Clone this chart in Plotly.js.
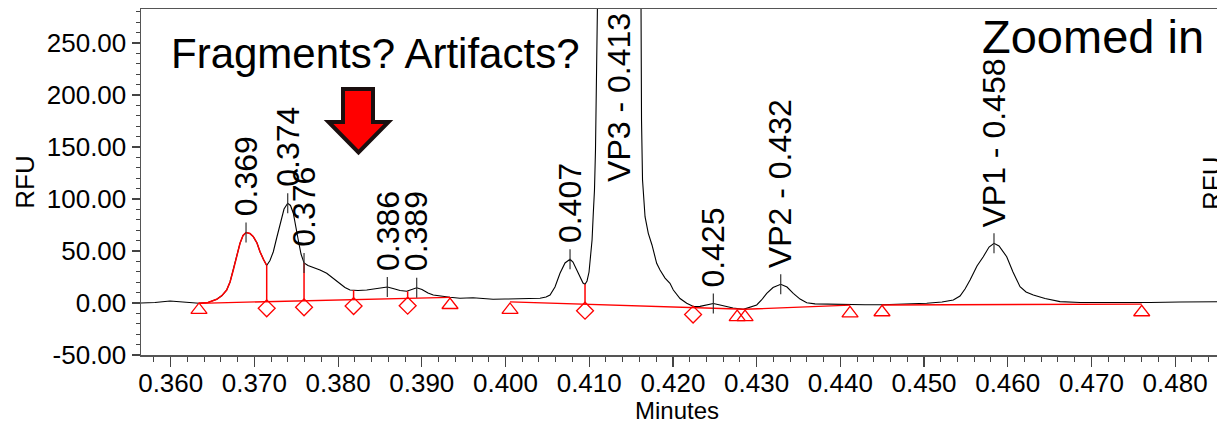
<!DOCTYPE html>
<html>
<head>
<meta charset="utf-8">
<script src="https://cdn.plot.ly/plotly-3.0.1.min.js"></script>
<style>
html,body{margin:0;padding:0;background:#fff;overflow:hidden;}
#wrap{width:1217px;height:425px;overflow:hidden;position:relative;}
#plot{width:1300px;height:425px;}
</style>
</head>
<body>
<div id="wrap"><div id="plot"></div></div>
<script>
// ---- Data ----
const time = [0.35645,0.35812,0.35992,0.36171,0.36338,0.36446,0.36550,0.36613,0.36669,0.36709,
0.36748,0.36789,0.36828,0.36864,0.36900,0.36947,0.36987,0.37031,0.37067,0.37109,
0.37147,0.37186,0.37226,0.37266,0.37306,0.37354,0.37398,0.37431,0.37465,0.37497,
0.37524,0.37557,0.37593,0.37640,0.37704,0.37784,0.37864,0.37939,0.38023,0.38082,
0.38142,0.38238,0.38342,0.38441,0.38513,0.38588,0.38656,0.38740,0.38820,0.38871,
0.38939,0.39002,0.39074,0.39137,0.39241,0.39337,0.39456,0.39612,0.39731,0.39851,
0.39994,0.40173,0.40317,0.40412,0.40484,0.40532,0.40591,0.40651,0.40711,0.40771,
0.40806,0.40851,0.40890,0.40926,0.40950,0.40974,0.40998,0.41016,0.41034,0.41049,
0.41063,0.41075,0.41085,0.41090,0.41099,0.41354,0.41610,0.41619,0.41625,0.41637,
0.41667,0.41706,0.41750,0.41806,0.41846,0.41906,0.41965,0.42005,0.42085,0.42165,
0.42244,0.42324,0.42407,0.42483,0.42563,0.42643,0.42718,0.42841,0.42921,0.43001,
0.43059,0.43121,0.43196,0.43288,0.43363,0.43438,0.43519,0.43599,0.43698,0.43838,
0.43996,0.44116,0.44295,0.44498,0.44773,0.45032,0.45215,0.45350,0.45430,0.45490,
0.45550,0.45633,0.45708,0.45777,0.45836,0.45896,0.45988,0.46063,0.46147,0.46219,
0.46306,0.46446,0.46625,0.46864,0.47103,0.47422,0.47700,0.48059,0.48501,0.49014];
const rfu = [0.0,0.5,1.9,0.5,-0.3,0.5,3.6,7.2,12.5,20.2,
31.7,45.2,57.4,64.9,67.8,66.8,63.8,57.7,49.3,41.8,
36.1,40.9,49.3,62.5,76.6,90.4,95.9,93.8,86.3,74.0,
60.6,47.1,38.5,36.1,34.3,31.7,28.6,24.0,18.9,14.9,
12.5,12.0,12.5,13.5,14.4,15.4,13.9,12.0,11.3,13.0,
14.7,13.0,9.6,7.7,6.3,5.5,4.5,5.1,4.3,3.6,
3.8,3.8,4.2,4.5,5.8,7.7,15.4,28.6,38.5,42.0,
39.4,31.7,24.0,19.2,18.0,21.2,29.8,43.3,60.6,86.5,
108.7,147.1,214.4,282.7,450,1800,450,282.7,176.0,118.3,
83.0,67.0,55.8,38.2,31.7,24.0,18.9,12.5,4.3,-0.3,
-3.4,-3.2,-1.4,-0.5,-1.9,-3.4,-4.8,-6.1,-4.3,-1.9,
2.9,9.3,14.9,18.0,15.4,9.3,3.8,0.3,-0.8,-1.0,
-1.4,-1.9,-1.7,-1.7,-1.0,-0.3,1.0,2.9,6.7,13.5,
22.1,35.6,44.5,53.8,57.4,54.8,44.5,29.8,15.7,10.6,
7.7,4.3,1.3,0.5,0.5,0.3,0.5,1.0,1.3,1.4];

// highlighted (integrated) first peak window
const redStart = 0.36338, redEnd = 0.37147;

// peaks
const peakTimes   = [0.36900,0.37398,0.37593,0.38588,0.38939,0.40771,0.41354,0.42483,0.43288,0.45836];
const peakHeights = [67.8,95.9,38.5,15.4,14.7,42.0,1800,-0.5,18.0,57.4];
const peakLabels  = ['0.369','0.374','0.376','0.386','0.389','0.407','VP3 - 0.413','0.425','VP2 - 0.432','VP1 - 0.458'];

// integration baselines (null separates segments)
const baseT = [0.36338,0.39337,null,0.40054,0.42768,0.42862,0.44116,null,0.44498,0.47601];
const baseV = [-0.3,5.5,null,1.0,-6.0,-6.0,-2.0,null,-1.9,-1.0];

// drop lines
const dropT    = [0.37147,0.37593,0.38185,0.38831,0.40950];
const dropBase = [1.3,2.1,3.3,4.5,-1.3];
const dropTop  = [36.1,38.5,12.5,11.3,18.0];

// baseline start/end markers (triangles) and drop markers (diamonds)
const triT = [0.36338,0.39337,0.40054,0.42768,0.42862,0.44116,0.44498,0.47601];
const triV = [-6.7,-1.9,-6.7,-13.5,-13.5,-9.9,-8.9,-8.9];
const diaT = [0.37147,0.37593,0.38185,0.38831,0.40950,0.42241];
const diaV = [-5.1,-4.1,-2.9,-2.6,-7.4,-11.1];

// axis ticks
const xTickVals = [0.36,0.37,0.38,0.39,0.40,0.41,0.42,0.43,0.44,0.45,0.46,0.47,0.48];
const xTickText = ['0.360','0.370','0.380','0.390','0.400','0.410','0.420','0.430','0.440','0.450','0.460','0.470','0.480'];
const yTickVals = [-50,0,50,100,150,200,250];
const yTickText = ['-50.00','0.00','50.00','100.00','150.00','200.00','250.00'];

// ---- Layout geometry ----
const W = 1300, H = 425;
const M = {l:141, r:40, t:9, b:70};
const X0 = 0.356452, X1 = 0.49014, Y0 = -50, Y1 = 282.7;
const pw = W - M.l - M.r, ph = H - M.t - M.b;
const px2paperX = p => (p - M.l) / pw;
const px2paperY = p => (H - M.b - p) / ph;

const FONT = 'Arial, "Liberation Sans", sans-serif';

// ---- Traces ----
const redT = [], redV = [];
time.forEach((t, i) => { if (t >= redStart - 1e-9 && t <= redEnd + 1e-9) { redT.push(t); redV.push(rfu[i]); } });

const dropX = [], dropY = [];
dropT.forEach((t, i) => { dropX.push(t, t, null); dropY.push(dropBase[i], dropTop[i], null); });

const tickX = [], tickY = [];
peakTimes.forEach((t, i) => { tickX.push(t, t, null); tickY.push(peakHeights[i] - 9.6, peakHeights[i] + 9.6, null); });

const traces = [
  {x: time, y: rfu, mode: 'lines', line: {color: '#000', width: 1.1}, hoverinfo: 'skip'},
  {x: redT, y: redV, mode: 'lines', line: {color: '#ff0000', width: 1.5}, hoverinfo: 'skip'},
  {x: baseT, y: baseV, mode: 'lines', line: {color: '#ff0000', width: 1.3}, connectgaps: false, hoverinfo: 'skip'},
  {x: dropX, y: dropY, mode: 'lines', line: {color: '#ff0000', width: 1.5}, connectgaps: false, hoverinfo: 'skip'},
  {x: tickX, y: tickY, mode: 'lines', line: {color: '#333', width: 1.2}, connectgaps: false, hoverinfo: 'skip'},
  {x: triT, y: triV, mode: 'markers', marker: {symbol: 'triangle-up-open', size: 14, color: '#ff0000', line: {width: 1.3}}, hoverinfo: 'skip', cliponaxis: false},
  {x: diaT, y: diaV, mode: 'markers', marker: {symbol: 'diamond-open', size: 13, color: '#ff0000', line: {width: 1.3}}, hoverinfo: 'skip', cliponaxis: false}
];

// ---- Annotations ----
const annotations = [];
peakTimes.forEach((t, i) => {
  const off = peakHeights[i] > Y1;
  annotations.push({
    x: t, y: off ? Y1 - 2.5 : peakHeights[i] + 14.7,
    xref: 'x', yref: 'y', text: peakLabels[i], showarrow: false,
    textangle: -90, xanchor: 'center', yanchor: off ? 'top' : 'bottom',
    font: {family: FONT, size: 32, color: '#000'}, borderpad: 0
  });
});
annotations.push({
  x: px2paperX(375), y: px2paperY(53), xref: 'paper', yref: 'paper',
  text: 'Fragments? Artifacts?', showarrow: false, xanchor: 'center', yanchor: 'middle',
  font: {family: FONT, size: 42, color: '#000'}, borderpad: 0
});
annotations.push({
  x: px2paperX(1092.5), y: px2paperY(37), xref: 'paper', yref: 'paper',
  text: 'Zoomed in', showarrow: false, xanchor: 'center', yanchor: 'middle',
  font: {family: FONT, size: 47, color: '#000'}, borderpad: 0
});
annotations.push({
  x: px2paperX(1212), y: px2paperY(184), xref: 'paper', yref: 'paper',
  text: 'RFU', showarrow: false, textangle: -90, xanchor: 'center', yanchor: 'middle',
  font: {family: FONT, size: 26, color: '#000'}, borderpad: 0
});
annotations.push({
  x: px2paperX(676.5), y: px2paperY(410.5), xref: 'paper', yref: 'paper',
  text: 'Minutes', showarrow: false, xanchor: 'center', yanchor: 'middle',
  font: {family: FONT, size: 24, color: '#000'}, borderpad: 0
});

// ---- Arrow shape (paper coords from pixel outline) ----
const arrowPts = [[343,89],[373,89],[373,122],[388.5,122],[358.5,152.5],[328.5,122],[343,122]];
const arrowPath = 'M' + arrowPts.map(p => px2paperX(p[0]).toFixed(5) + ',' + px2paperY(p[1]).toFixed(5)).join(' L') + ' Z';

const layout = {
  width: W, height: H,
  margin: M,
  paper_bgcolor: '#fff', plot_bgcolor: '#fff',
  showlegend: false,
  font: {family: FONT, size: 26, color: '#000'},
  xaxis: {
    range: [X0, X1], tickmode: 'array', tickvals: xTickVals, ticktext: xTickText,
    showgrid: false, zeroline: false,
    showline: true, linecolor: '#555', linewidth: 1.5, mirror: true,
    ticks: 'outside', ticklen: 10, tickwidth: 1.2, tickcolor: '#444',
    ticklabelstandoff: -6,
    tickfont: {family: FONT, size: 26, color: '#000'},
    minor: {tickmode: 'linear', dtick: 0.002, tick0: 0.36, ticks: 'outside', ticklen: 5, tickwidth: 1, tickcolor: '#444', showgrid: false}
  },
  yaxis: {
    range: [Y0, Y1], tickmode: 'array', tickvals: yTickVals, ticktext: yTickText,
    showgrid: false, zeroline: false,
    showline: true, linecolor: '#555', linewidth: 1.5, mirror: true,
    ticks: 'outside', ticklen: 8, tickwidth: 1.2, tickcolor: '#444',
    tickfont: {family: FONT, size: 26, color: '#000'},
    minor: {dtick: 10, tick0: 0, tickmode: 'linear', ticks: 'outside', ticklen: 4, tickwidth: 1, tickcolor: '#444', showgrid: false},
    title: {text: 'RFU', font: {family: FONT, size: 26, color: '#000'}, standoff: 4}
  },
  annotations: annotations,
  shapes: [{type: 'path', xref: 'paper', yref: 'paper', path: arrowPath,
            fillcolor: '#ff0000', line: {color: '#1a0f0f', width: 4}, layer: 'above'}]
};

Plotly.newPlot('plot', traces, layout, {staticPlot: true, displayModeBar: false});
</script>
</body>
</html>
